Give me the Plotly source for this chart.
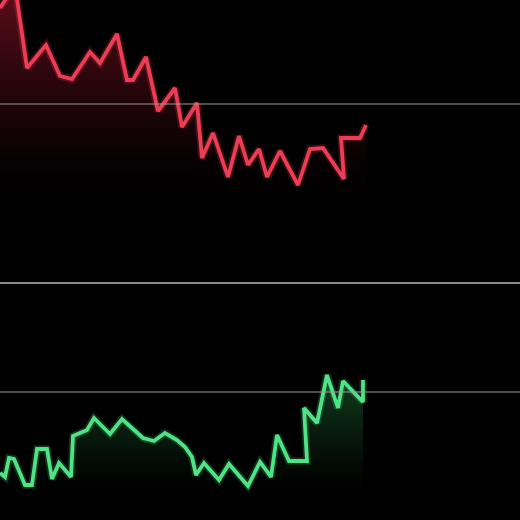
import plotly.graph_objects as go

# minutos desde a abertura / preço - ação em queda (topo)
minutos_queda = [0, 3.75, 6.75, 11.5, 15, 18, 22.5, 25, 29.25, 31.75, 33.25, 36.5, 39.5,
                 43.75, 45.5, 49.25, 50.5, 53.25, 57, 59.75, 62, 64.75, 66.75, 70,
                 74.5, 77.5, 80.75, 86, 85.25, 90, 91.5]
precos_queda = [154.80, 155.95, 151.80, 152.95, 151.40, 151.25, 152.60, 152.05, 153.50,
                151.20, 151.20, 152.35, 149.65, 150.80, 148.85, 150.05, 147.30, 148.55,
                146.35, 148.40, 146.95, 147.75, 146.35, 147.65, 145.95, 147.75, 147.80,
                146.25, 148.30, 148.30, 148.95]
fechamento_queda = 150.00

# ação em alta (baixo)
minutos_alta = [0, 1.25, 2.25, 3.5, 6.25, 8, 9.25, 11.75, 13, 14.75, 17.75, 18.25, 21.75,
                23.5, 27.5, 30.5, 35.75, 38.5, 41.25, 44.25, 46.25, 48, 49, 51, 54.75,
                57.25, 62, 65, 67.75, 69.25, 72.25, 76.75, 76, 79.25, 81.75, 84.5,
                85.75, 90.75, 90.75]
precos_alta = [75.95, 75.75, 76.70, 76.65, 75.35, 75.35, 77.15, 77.15, 75.65, 76.45,
               75.75, 77.80, 78.10, 78.70, 77.90, 78.65, 77.70, 77.55, 77.95, 77.60,
               77.25, 76.75, 75.85, 76.45, 75.60, 76.40, 75.30, 76.50, 75.75, 77.85,
               76.55, 76.55, 79.20, 78.45, 80.85, 79.20, 80.55, 79.50, 80.60]
fechamento_alta = 80.00

divisao = 0.4577

fig = go.Figure()

# preenchimento em degradê
fig.add_trace(go.Scatter(
    x=minutos_queda, y=precos_queda, xaxis='x', yaxis='y',
    mode='lines', line=dict(width=0), fill='tozeroy',
    fillgradient=dict(type='vertical', start=144.4, stop=155.2,
                      colorscale=[[0, 'rgba(0,0,0,0)'], [0.5, 'rgba(60,8,16,0.5)'],
                                  [1, 'rgba(110,16,30,0.8)']]),
    hoverinfo='skip'
))
fig.add_trace(go.Scatter(
    x=minutos_alta, y=precos_alta, xaxis='x2', yaxis='y2',
    mode='lines', line=dict(width=0), fill='tozeroy',
    fillgradient=dict(type='vertical', start=74.3, stop=79.5,
                      colorscale=[[0, 'rgba(0,0,0,0)'], [0.6, 'rgba(12,40,20,0.55)'],
                                  [1, 'rgba(18,60,30,0.75)']]),
    hoverinfo='skip'
))

# brilho + linha
fig.add_trace(go.Scatter(
    x=minutos_queda, y=precos_queda, xaxis='x', yaxis='y', mode='lines',
    line=dict(color='rgba(240,60,85,0.22)', width=7.5), hoverinfo='skip'
))
fig.add_trace(go.Scatter(
    x=minutos_queda, y=precos_queda, xaxis='x', yaxis='y', mode='lines',
    line=dict(color='#ec3d55', width=3.8), name='Queda'
))
fig.add_trace(go.Scatter(
    x=minutos_alta, y=precos_alta, xaxis='x2', yaxis='y2', mode='lines',
    line=dict(color='rgba(80,230,130,0.2)', width=7.5), hoverinfo='skip'
))
fig.add_trace(go.Scatter(
    x=minutos_alta, y=precos_alta, xaxis='x2', yaxis='y2', mode='lines',
    line=dict(color='#4fe386', width=3.8), name='Alta'
))

# linhas de fechamento anterior
fig.add_hline(y=fechamento_queda, line=dict(color='#9a9a9a', width=1), yref='y')
fig.add_hline(y=fechamento_alta, line=dict(color='#9a9a9a', width=1), yref='y2')

eixo_x = dict(range=[0, 130], showgrid=False, zeroline=False, showticklabels=False, fixedrange=True)
fig.update_layout(
    width=520, height=520,
    margin=dict(l=0, r=0, t=0, b=0),
    paper_bgcolor='black', plot_bgcolor='black',
    showlegend=False,
    xaxis=dict(eixo_x, anchor='y', showline=True, linecolor='#8a8a8a', linewidth=1.5),
    xaxis2=dict(eixo_x, anchor='y2', showline=False),
    yaxis=dict(domain=[divisao, 1], range=[141.1, 155.2], showgrid=False, zeroline=False,
               showticklabels=False),
    yaxis2=dict(domain=[0, divisao], range=[73.6, 85.5], showgrid=False, zeroline=False,
                showticklabels=False),
)

fig.write_html('out.html', config={'displayModeBar': False},
               post_script="document.body.style.margin='0';document.body.style.background='black';")
